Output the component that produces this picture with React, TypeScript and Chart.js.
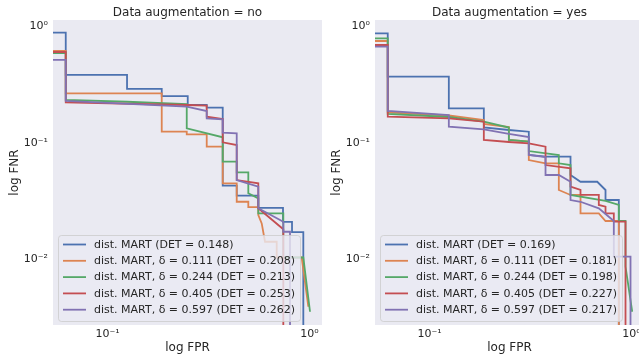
import React, { useEffect, useRef } from "react";
import { Chart, registerables } from "chart.js";

Chart.register(...registerables);

const FONT = '"DejaVu Sans", "Liberation Sans", sans-serif';
const TEXT = "#262626";
const BG = "#EAEAF2";
const COLORS = ["#4C72B0", "#DD8452", "#55A868", "#C44E52", "#8172B3"];

const panelTitles = ["Data augmentation = no", "Data augmentation = yes"];
const deltas = ["0.111", "0.244", "0.405", "0.597"];
const detNo = ["0.148", "0.208", "0.213", "0.253", "0.262"];
const detYes = ["0.169", "0.181", "0.198", "0.227", "0.217"];

const fprTicks = [0.1, 1];
const fprTickLabels = ["10⁻¹", "10⁰"];
const fnrTicks = [0.01, 0.1, 1];
const fnrTickLabels = ["10⁻²", "10⁻¹", "10⁰"];
const fprRange = [0.0537, 1.153];
const fnrRange = [0.00274, 1.137];

// ---- Data augmentation = no ----
const noMartFpr = [0.0537, 0.0621, 0.0621, 0.1249, 0.1249, 0.1855, 0.1855, 0.2495, 0.2495, 0.3098, 0.3098, 0.3718, 0.3718, 0.4361, 0.4361, 0.5578, 0.5578, 0.7392, 0.7392, 0.8192, 0.8192, 0.9318, 0.9318];
const noMartFnr = [0.885, 0.885, 0.384, 0.384, 0.291, 0.291, 0.253, 0.253, 0.212, 0.212, 0.201, 0.201, 0.043, 0.043, 0.0353, 0.0353, 0.0277, 0.0277, 0.021, 0.021, 0.0172, 0.0172, 0.001];
const noD111Fpr = [0.0537, 0.0621, 0.0621, 0.1855, 0.1855, 0.2467, 0.2467, 0.3098, 0.3098, 0.3718, 0.3718, 0.4361, 0.4361, 0.4977, 0.4977, 0.5578, 0.5578, 0.5799, 0.6021, 0.688, 0.688, 0.9149, 0.9865];
const noD111Fnr = [0.616, 0.616, 0.267, 0.267, 0.125, 0.125, 0.1187, 0.1187, 0.0929, 0.0929, 0.0451, 0.0451, 0.0313, 0.0313, 0.0282, 0.0282, 0.0241, 0.0204, 0.0142, 0.0142, 0.0104, 0.0104, 0.00393];
const noD244Fpr = [0.0537, 0.0621, 0.0621, 0.1249, 0.2467, 0.2467, 0.3718, 0.3718, 0.4361, 0.4361, 0.4977, 0.4977, 0.5578, 0.5578, 0.7418, 0.7418, 0.9318, 1.0058];
const noD244Fnr = [0.592, 0.592, 0.234, 0.226, 0.216, 0.1337, 0.1119, 0.0691, 0.0691, 0.056, 0.056, 0.037, 0.0335, 0.0249, 0.0249, 0.0104, 0.0104, 0.00356];
const noD405Fpr = [0.0537, 0.0621, 0.0621, 0.2467, 0.3098, 0.3098, 0.3718, 0.3718, 0.4361, 0.4361, 0.5578, 0.5578, 0.7418, 0.7418];
const noD405Fnr = [0.604, 0.604, 0.2235, 0.212, 0.209, 0.1681, 0.1607, 0.1014, 0.0961, 0.0481, 0.0451, 0.0275, 0.0182, 0.001];
const noD597Fpr = [0.0537, 0.0621, 0.0621, 0.2467, 0.3098, 0.3098, 0.3718, 0.3718, 0.4361, 0.4361, 0.5578, 0.5578, 0.7418, 0.7418, 0.8007, 0.8007];
const noD597Fnr = [0.516, 0.516, 0.2293, 0.2049, 0.1882, 0.1629, 0.1597, 0.1226, 0.1211, 0.0481, 0.0422, 0.0275, 0.0211, 0.0173, 0.0173, 0.001];

// ---- Data augmentation = yes ----
const yesMartFpr = [0.0537, 0.0621, 0.0621, 0.1246, 0.1246, 0.1857, 0.1857, 0.247, 0.3101, 0.3101, 0.3752, 0.4989, 0.4989, 0.5591, 0.6765, 0.7435, 0.7435, 0.8653, 0.8653, 0.8653];
const yesMartFnr = [0.874, 0.874, 0.371, 0.371, 0.1986, 0.1986, 0.1358, 0.1293, 0.125, 0.0789, 0.0763, 0.0763, 0.0531, 0.0465, 0.0465, 0.0395, 0.0324, 0.0324, 0.0284, 0.001];
const yesD111Fpr = [0.0537, 0.0621, 0.0621, 0.1246, 0.1857, 0.1857, 0.247, 0.247, 0.3101, 0.3101, 0.3752, 0.4366, 0.4366, 0.4989, 0.5591, 0.5591, 0.6888, 0.7435, 0.8653, 0.8653];
const yesD111Fnr = [0.751, 0.751, 0.1834, 0.1722, 0.1575, 0.1456, 0.1372, 0.1061, 0.1026, 0.0714, 0.0669, 0.0669, 0.0395, 0.0358, 0.0358, 0.0249, 0.0249, 0.0214, 0.0214, 0.001];
const yesD244Fpr = [0.0537, 0.0621, 0.0621, 0.1246, 0.1857, 0.247, 0.247, 0.3101, 0.3101, 0.4366, 0.4366, 0.4989, 0.4989, 0.7435, 0.8653, 0.8653, 0.9339, 0.9339, 1.008];
const yesD244Fnr = [0.792, 0.792, 0.1774, 0.1671, 0.1523, 0.1358, 0.1061, 0.1026, 0.0853, 0.0789, 0.0669, 0.0647, 0.0358, 0.0318, 0.0294, 0.0214, 0.0214, 0.0087, 0.00356];
const yesD405Fpr = [0.0537, 0.0621, 0.0621, 0.1246, 0.1857, 0.1857, 0.247, 0.3101, 0.3752, 0.3752, 0.4989, 0.4989, 0.5591, 0.5591, 0.6888, 0.6888, 0.7435, 0.7435, 0.8173, 0.8173, 0.9339, 0.9339];
const yesD405Fnr = [0.694, 0.694, 0.1681, 0.1629, 0.1523, 0.1061, 0.102, 0.0994, 0.0929, 0.0647, 0.0607, 0.0422, 0.0395, 0.0358, 0.0358, 0.0294, 0.0284, 0.0249, 0.0249, 0.0211, 0.0211, 0.001];
const yesD597Fpr = [0.0537, 0.0621, 0.0621, 0.1246, 0.1246, 0.1857, 0.247, 0.3101, 0.3101, 0.3752, 0.3752, 0.4366, 0.4989, 0.4989, 0.5591, 0.6888, 0.8173, 0.8173, 0.9886, 0.9886];
const yesD597Fnr = [0.671, 0.671, 0.1882, 0.1739, 0.138, 0.1311, 0.1195, 0.1126, 0.0789, 0.0758, 0.0531, 0.0531, 0.0465, 0.0324, 0.0313, 0.0275, 0.0214, 0.0106, 0.0106, 0.001];

const makeLabels = (det: string[]) => [
  `dist. MART (DET = ${det[0]})`,
  ...deltas.map((d, i) => `dist. MART, δ = ${d} (DET = ${det[i + 1]})`),
];

const panels = [
  {
    title: panelTitles[0],
    labels: makeLabels(detNo),
    fpr: [noMartFpr, noD111Fpr, noD244Fpr, noD405Fpr, noD597Fpr],
    fnr: [noMartFnr, noD111Fnr, noD244Fnr, noD405Fnr, noD597Fnr],
  },
  {
    title: panelTitles[1],
    labels: makeLabels(detYes),
    fpr: [yesMartFpr, yesD111Fpr, yesD244Fpr, yesD405Fpr, yesD597Fpr],
    fnr: [yesMartFnr, yesD111Fnr, yesD244Fnr, yesD405Fnr, yesD597Fnr],
  },
];

const CW = 330;
const CH = 356;

function Panel({ panel, left }: { panel: any; left: number }) {
  const ref = useRef<HTMLCanvasElement | null>(null);
  useEffect(() => {
    const canvas = ref.current;
    if (!canvas) return;

    const bgPlugin = {
      id: "bg",
      beforeDraw(chart: any) {
        const { ctx, chartArea: a } = chart;
        ctx.save();
        ctx.fillStyle = BG;
        ctx.fillRect(a.left, a.top, a.right - a.left, a.bottom - a.top);
        ctx.restore();
      },
    };
    const titlePlugin = {
      id: "panelTitle",
      afterDraw(chart: any) {
        const { ctx, chartArea: a } = chart;
        ctx.save();
        ctx.font = `12px ${FONT}`;
        ctx.fillStyle = TEXT;
        ctx.textAlign = "center";
        ctx.textBaseline = "alphabetic";
        ctx.fillText(panel.title, (a.left + a.right) / 2, 15.5);
        ctx.restore();
      },
    };
    const legendPlugin = {
      id: "boxLegend",
      afterDatasetsDraw(chart: any) {
        const { ctx, chartArea: a } = chart;
        const bx = a.left + 5;
        const bw = 242;
        const bh = 86;
        const by = a.bottom - 4 - bh;
        ctx.save();
        ctx.beginPath();
        if ((ctx as any).roundRect) (ctx as any).roundRect(bx + 0.5, by + 0.5, bw, bh, 3);
        else ctx.rect(bx + 0.5, by + 0.5, bw, bh);
        ctx.fillStyle = "rgba(234,234,242,0.8)";
        ctx.fill();
        ctx.strokeStyle = "rgba(204,204,204,0.8)";
        ctx.lineWidth = 1;
        ctx.stroke();
        ctx.font = `11px ${FONT}`;
        ctx.textBaseline = "middle";
        ctx.textAlign = "left";
        panel.labels.forEach((lab: string, i: number) => {
          const yy = by + 9.5 + i * 16.3;
          ctx.strokeStyle = COLORS[i];
          ctx.lineWidth = 1.8;
          ctx.beginPath();
          ctx.moveTo(bx + 5, yy);
          ctx.lineTo(bx + 28, yy);
          ctx.stroke();
          ctx.fillStyle = TEXT;
          ctx.fillText(lab, bx + 36, yy + 0.5);
        });
        ctx.restore();
      },
    };

    const chart = new Chart(canvas, {
      type: "line",
      data: {
        datasets: panel.labels.map((lab: string, i: number) => ({
          label: lab,
          data: panel.fpr[i].map((x: number, j: number) => ({ x, y: panel.fnr[i][j] })),
          borderColor: COLORS[i],
          backgroundColor: COLORS[i],
          borderWidth: 1.8,
          pointRadius: 0,
          fill: false,
          tension: 0,
          order: 4 - i,
        })),
      },
      options: {
        animation: false,
        responsive: false,
        maintainAspectRatio: false,
        events: [],
        layout: { padding: { left: 0, right: 8, top: 20, bottom: 0 } },
        plugins: {
          legend: { display: false },
          tooltip: { enabled: false },
          title: { display: false },
        },
        scales: {
          x: {
            type: "logarithmic",
            position: "bottom",
            min: fprRange[0],
            max: fprRange[1],
            grid: { display: false, drawTicks: false },
            border: { display: false },
            ticks: {
              autoSkip: false,
              maxRotation: 0,
              padding: 3,
              color: TEXT,
              font: { family: FONT, size: 11 },
              callback: (_v: any, i: number) => fprTickLabels[i],
            },
            afterBuildTicks: (s: any) => {
              s.ticks = fprTicks.map((v) => ({ value: v }));
            },
            afterFit: (s: any) => {
              s.height = 31;
            },
            title: {
              display: true,
              text: "log FPR",
              color: TEXT,
              font: { family: FONT, size: 12 },
              padding: { top: 0, bottom: 1 },
            },
          },
          y: {
            type: "logarithmic",
            position: "left",
            min: fnrRange[0],
            max: fnrRange[1],
            grid: { display: false, drawTicks: false },
            border: { display: false },
            ticks: {
              autoSkip: false,
              padding: 5,
              color: TEXT,
              font: { family: FONT, size: 11 },
              callback: (_v: any, i: number) => fnrTickLabels[i],
            },
            afterBuildTicks: (s: any) => {
              s.ticks = fnrTicks.map((v) => ({ value: v }));
            },
            afterFit: (s: any) => {
              s.width = 53;
            },
            title: {
              display: true,
              text: "log FNR",
              color: TEXT,
              font: { family: FONT, size: 12 },
              padding: { top: 8, bottom: 0 },
            },
          },
        },
      } as any,
      plugins: [bgPlugin, titlePlugin, legendPlugin],
    });
    return () => chart.destroy();
  }, [panel]);

  return (
    <canvas
      ref={ref}
      width={CW}
      height={CH}
      style={{ position: "absolute", left, top: 0, width: CW, height: CH }}
    />
  );
}

export default function App() {
  return (
    <div
      style={{
        position: "fixed",
        left: 0,
        top: 0,
        width: 639,
        height: 356,
        overflow: "hidden",
        background: "#ffffff",
      }}
    >
      <Panel panel={panels[0]} left={0} />
      <Panel panel={panels[1]} left={322} />
    </div>
  );
}
